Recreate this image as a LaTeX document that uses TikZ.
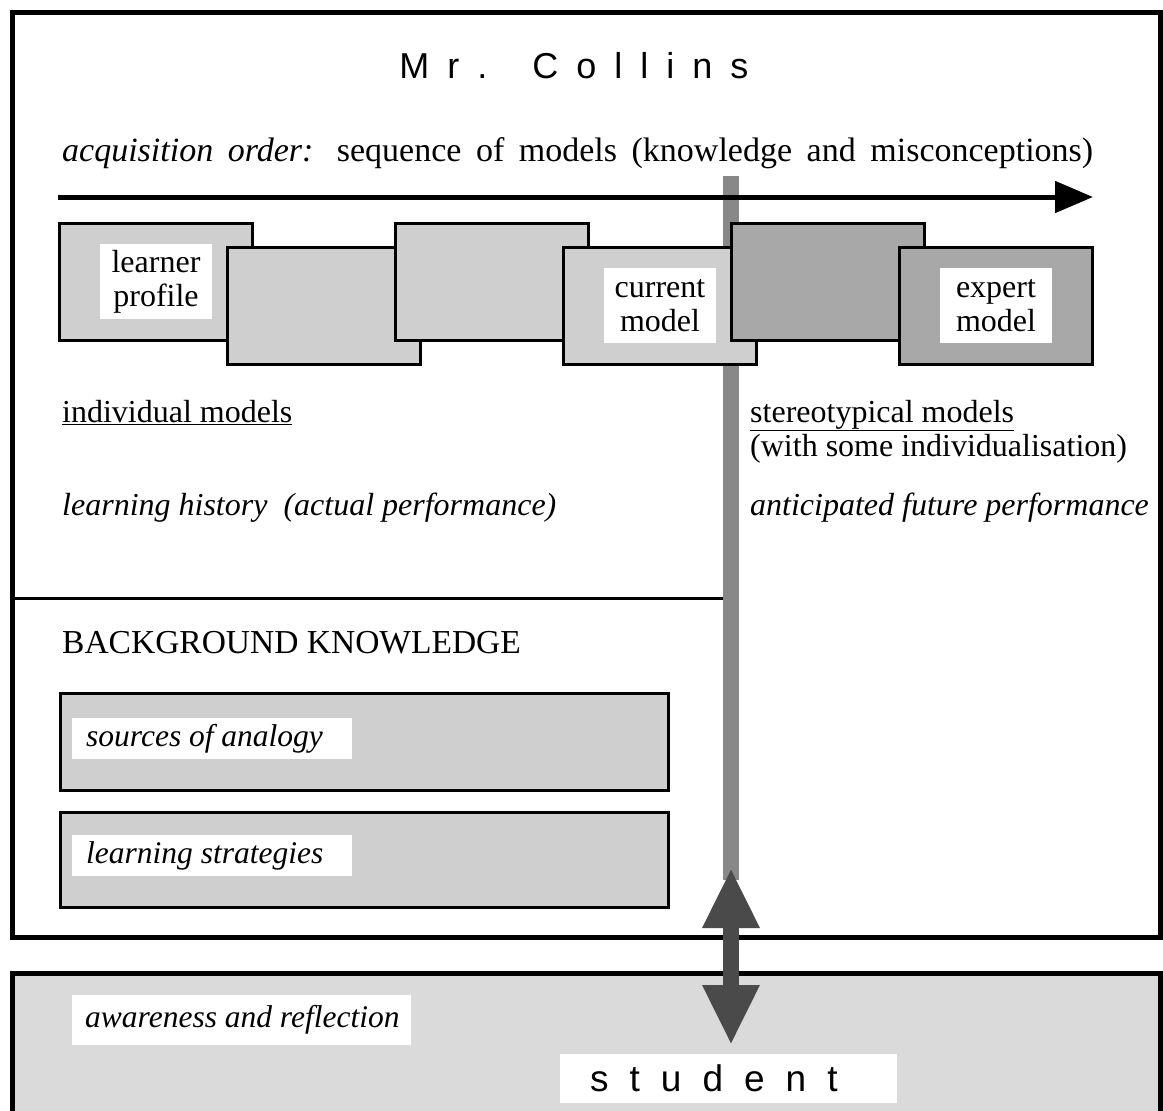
\documentclass[tikz,border=0pt]{standalone}
\usepackage{fontspec}
\setmainfont{Liberation Serif}
\newfontfamily\headfont{Liberation Sans}
\usepackage{tikz}
\usetikzlibrary{positioning, arrows.meta}

\definecolor{hatchlight}{HTML}{CFCFCF}
\definecolor{hatchdark}{HTML}{A8A8A8}
\definecolor{studentbg}{HTML}{DADADA}
\definecolor{bargray}{HTML}{888888}
\definecolor{arrowgray}{HTML}{4A4A4A}

\newcommand{\lsp}{\hspace{18pt}}
\newcommand{\ssp}{\hspace{21pt}}

\begin{document}
\begin{tikzpicture}[x=1pt, y=-1pt,
    frame/.style={draw=black, line width=5pt, inner sep=0pt, minimum width=1148pt},
    model/.style={draw=black, line width=3pt, fill=hatchlight, minimum width=193pt, minimum height=117pt, inner sep=0pt},
    stereo/.style={model, fill=hatchdark},
    tag/.style={fill=white, align=center, minimum width=112pt, minimum height=75pt, inner sep=0pt, font=\fontsize{32}{34}\selectfont},
    txt/.style={anchor=base west, inner sep=0pt, font=\fontsize{32}{34}\selectfont},
    knowbox/.style={draw=black, line width=3pt, fill=hatchlight, minimum width=608pt, inner sep=0pt},
    knowtag/.style={fill=white, anchor=west, inner xsep=14pt, inner ysep=0pt, minimum height=41pt, font=\fontsize{31.5}{34}\selectfont\itshape}
  ]
    \useasboundingbox (0,0) rectangle (1163,1111);
    \clip (0,0) rectangle (1163,1111);

    % the two frames
    \node[frame, fill=studentbg, minimum height=180pt] (studentframe) at (586,1063) {};
    \node[frame, minimum height=925pt] (collinsframe) at (586,474.5) {};

    \node[anchor=base, inner sep=0pt, font=\headfont\fontsize{36}{40}\selectfont] (title) at (574,78) {M\lsp r\lsp .\hspace{45pt}C\lsp o\lsp l\lsp l\lsp i\lsp n\lsp s};

    \node[txt, font=\fontsize{34}{36}\selectfont] (order) at (62,161) {\makebox[1031pt][s]{\textit{acquisition order:} sequence of models (knowledge and misconceptions)}};

    % now line and time arrow
    \coordinate (bartop) at (731,176);
    \coordinate (barbot) at (731,880);
    \draw[bargray, line width=16pt] (bartop) -- (barbot);

    \coordinate (tstart) at (58,197);
    \coordinate (tend) at (1093,197);
    \draw[line width=5pt, -{Triangle[length=38pt, width=31pt]}] (tstart) -- (tend);

    \coordinate (split) at (723,598);
    \draw[line width=3pt] (collinsframe.west |- split) -- (split);

    % sequence of models
    \node[model] (m1) at (156,281.5) {};
    \node[tag] (profile) at (m1) {learner\\profile};
    \node[model] (m2) at (324,305.5) {};
    \node[model] (m3) at (492,281.5) {};
    \node[model] (m4) at (660,305.5) {};
    \node[tag] (current) at (m4) {current\\model};
    \node[stereo] (m5) at (828,281.5) {};
    \node[stereo] (m6) at (996,305.5) {};
    \node[tag] (expert) at (m6) {expert\\model};

    \node[txt] (indiv) at (62,422) {\underline{individual models}};
    \node[txt] (stereotyp) at (750,422) {\underline{stereotypical models}};
    \node[txt] (withsome) at (750,456) {(with some individualisation)};
    \node[txt] (history) at (62,515) {\textit{learning history\ \ (actual performance)}};
    \node[txt] (future) at (750,515) {\textit{anticipated future performance}};

    % background knowledge
    \node[txt, font=\fontsize{33.5}{36}\selectfont] (background) at (62,653) {BACKGROUND KNOWLEDGE};
    \node[knowbox, minimum height=97pt] (analogybox) at (364,741.5) {};
    \node[knowtag] (analogy) at (72,738.5) {\makebox[252pt][l]{sources of analogy}};
    \node[knowbox, minimum height=95pt] (strategybox) at (364,859.5) {};
    \node[knowtag] (strategy) at (72,855.5) {\makebox[252pt][l]{learning strategies}};

    % student
    \node[knowtag, inner xsep=13pt, minimum height=50pt] (awareness) at (72,1020) {\makebox[313pt][l]{awareness and reflection}};
    \node[fill=white, anchor=west, inner xsep=30pt, inner ysep=0pt, minimum height=49pt, font=\headfont\fontsize{37}{40}\selectfont] (student) at (560,1078.5) {\makebox[277pt][l]{s\ssp t\ssp u\ssp d\ssp e\ssp n\ssp t}};

    \coordinate (up) at (731,868);
    \coordinate (down) at (731,1045);
    \draw[arrowgray, line width=16pt, {Triangle[length=60pt, width=53pt]}-{Triangle[length=60pt, width=53pt]}] (up) -- (down);
\end{tikzpicture}
\end{document}
